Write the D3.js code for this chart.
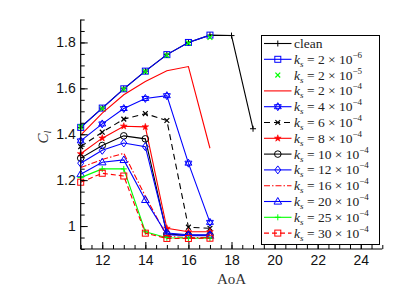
<!DOCTYPE html>
<html><head><meta charset="utf-8">
<script src="https://cdn.jsdelivr.net/npm/d3@7"></script>
<style>body{margin:0;background:#fff}svg{display:block}</style>
</head><body>
<svg id="c" width="418" height="301"></svg>
<script>
const aoa = [11,12,13,14,15,16,17];
const aoaClean = [11,12,13,14,15,16,17,18,19];
const clean   = [1.43,1.514,1.598,1.675,1.747,1.80,1.832,1.83,1.424];
const ks2e6   = [1.43,1.514,1.598,1.675,1.747,1.80,1.832];
const ks2e5   = [1.432,1.512,1.596,1.673,1.744,1.797,1.822];
const ks2e4   = [1.396,1.492,1.572,1.63,1.677,1.695,1.339];
const ks4e4   = [1.371,1.445,1.512,1.556,1.568,1.274,1.016];
const ks6e4   = [1.346,1.409,1.466,1.49,1.46,0.995,0.99];
const ks8e4   = [1.315,1.383,1.435,1.432,0.99,0.975,0.975];
const ks10e4  = [1.296,1.351,1.393,1.38,0.965,0.96,0.96];
const ks12e4  = [1.274,1.33,1.362,1.346,0.97,0.962,0.962];
const ks16e4  = [1.255,1.29,1.317,1.13,0.955,0.95,0.95];
const ks20e4  = [1.226,1.278,1.288,1.114,0.962,0.958,0.958];
const ks25e4  = [1.211,1.249,1.249,0.975,0.949,0.947,0.947];
const ks30e4  = [1.191,1.23,1.218,0.969,0.946,0.946,0.947];
const legendMant = ["2","2","2","4","6","8","10","12","16","20","25","30"];
const legendExp  = ["6","5","4","4","4","4","4","4","4","4","4","4"];
const xTicks = [12,14,16,18,20,22,24];
const yTicks = [1,1.2,1.4,1.6,1.8];

const BLUE="#0000ff", RED="#ff0000", GREEN="#00ff00", BLACK="#000";
const series = [
  {name:"clean", x:aoaClean, y:clean, color:BLACK, line:true, dash:null, marker:"plus"},
  {x:aoa, y:ks2e6, color:BLUE, line:true, dash:null, marker:"square"},
  {x:aoa, y:ks2e5, color:GREEN, line:false, dash:null, marker:"x"},
  {x:aoa, y:ks2e4, color:RED, line:true, dash:null, marker:null},
  {x:aoa, y:ks4e4, color:BLUE, line:true, dash:null, marker:"hex"},
  {x:aoa, y:ks6e4, color:BLACK, line:true, dash:"6,4", marker:"x"},
  {x:aoa, y:ks8e4, color:RED, line:true, dash:null, marker:"ast"},
  {x:aoa, y:ks10e4, color:BLACK, line:true, dash:null, marker:"circle"},
  {x:aoa, y:ks12e4, color:BLUE, line:true, dash:null, marker:"diamond"},
  {x:aoa, y:ks16e4, color:RED, line:true, dash:"6,2,1.5,2", marker:null},
  {x:aoa, y:ks20e4, color:BLUE, line:true, dash:null, marker:"triangle"},
  {x:aoa, y:ks25e4, color:GREEN, line:true, dash:null, marker:"plus"},
  {x:aoa, y:ks30e4, color:RED, line:true, dash:"5,3", marker:"square"}
];

const svg = d3.select("#c");
const x = d3.scaleLinear().domain([11,25]).range([80.7,382.3]);
const y = d3.scaleLinear().domain([0.9,1.9]).range([249,19.5]);

function drawMarker(g, type, cx, cy, color){
  const s = 3;
  if(type==="plus"){
    g.append("path").attr("d",`M${cx-s},${cy}H${cx+s}M${cx},${cy-s}V${cy+s}`).attr("stroke",color).attr("stroke-width",1).attr("fill","none");
  } else if(type==="x"){
    const t=2.4;
    g.append("path").attr("d",`M${cx-t},${cy-t}L${cx+t},${cy+t}M${cx-t},${cy+t}L${cx+t},${cy-t}`).attr("stroke",color).attr("stroke-width",1.2).attr("fill","none");
  } else if(type==="square"){
    g.append("rect").attr("x",cx-3).attr("y",cy-3).attr("width",6).attr("height",6).attr("stroke",color).attr("fill","none").attr("stroke-width",1);
  } else if(type==="circle"){
    g.append("circle").attr("cx",cx).attr("cy",cy).attr("r",3.3).attr("stroke",color).attr("fill","none").attr("stroke-width",1);
  } else if(type==="diamond"){
    g.append("path").attr("d",`M${cx},${cy-4}L${cx+3},${cy}L${cx},${cy+4}L${cx-3},${cy}Z`).attr("stroke",color).attr("fill","none").attr("stroke-width",1);
  } else if(type==="triangle"){
    g.append("path").attr("d",`M${cx},${cy-4}L${cx+3.8},${cy+2.6}L${cx-3.8},${cy+2.6}Z`).attr("stroke",color).attr("fill","none").attr("stroke-width",1);
  } else if(type==="hex"){
    const r=4;
    const tri=(a0)=>d3.range(3).map(i=>{const a=a0+i*2*Math.PI/3;return [cx+r*Math.cos(a),cy+r*Math.sin(a)];});
    const t1=tri(-Math.PI/2), t2=tri(Math.PI/2);
    g.append("path").attr("d",d3.line()(t1)+"Z"+d3.line()(t2)+"Z").attr("stroke",color).attr("fill","none").attr("stroke-width",1);
  } else if(type==="ast"){
    g.append("path").attr("d",d3.symbol(d3.symbolStar,14)()).attr("transform",`translate(${cx},${cy})`).attr("fill",color).attr("stroke",color).attr("stroke-width",0.6);
  }
}

const plot = svg.append("g");
series.forEach(s=>{
  const pts = s.x.map((xv,i)=>[x(xv), y(s.y[i])]);
  if(s.line){
    plot.append("path").attr("d",d3.line()(pts)).attr("fill","none").attr("stroke",s.color).attr("stroke-width",1.1).attr("stroke-dasharray",s.dash);
  }
  if(s.marker){
    pts.forEach(p=>drawMarker(plot,s.marker,p[0],p[1],s.color));
  }
});

// axes (ticks inward)
const minorY = d3.range(0.9,1.9001,0.05);
const minorX = d3.range(11,25.001,0.5);
const axL = svg.append("g").attr("transform",`translate(${x(11)},0)`);
axL.call(d3.axisLeft(y).tickValues(minorY).tickSize(-4).tickFormat(""));
axL.call(g=>g.select(".domain").remove());
const axL2 = svg.append("g").attr("transform",`translate(${x(11)},0)`);
axL2.call(d3.axisLeft(y).tickValues(yTicks).tickSize(-7).tickPadding(5).tickFormat(d=>d3.format("~g")(d)));
axL2.selectAll("text").attr("font-family","Liberation Sans, Arial, sans-serif").attr("font-size",14).attr("fill","#111");
axL2.select(".domain").attr("d",`M0,${y(0.9)}V${y(1.9)}`);

const axB = svg.append("g").attr("transform",`translate(0,${y(0.9)})`);
axB.call(d3.axisBottom(x).tickValues(minorX).tickSize(-4).tickFormat(""));
axB.call(g=>g.select(".domain").remove());
const axB2 = svg.append("g").attr("transform",`translate(0,${y(0.9)})`);
axB2.call(d3.axisBottom(x).tickValues(xTicks).tickSize(-7).tickPadding(6).tickFormat(d=>d));
axB2.selectAll("text").attr("font-family","Liberation Sans, Arial, sans-serif").attr("font-size",14).attr("fill","#111");
axB2.select(".domain").attr("d",`M${x(11)},0H${x(25)}`);
svg.selectAll(".tick line").attr("stroke","#000");
svg.selectAll(".domain").attr("stroke","#000").attr("stroke-width",1.2);

// axis labels
svg.append("text").attr("x",x(18)).attr("y",284).attr("text-anchor","middle")
  .attr("font-family","Liberation Serif, Times New Roman, serif").attr("font-size",15).attr("fill","#333").text("AoA");
const cl = svg.append("text").attr("transform",`translate(48,137) rotate(-90)`).attr("text-anchor","middle")
  .attr("font-family","Liberation Serif, Times New Roman, serif").attr("font-size",15).attr("fill","#333");
cl.append("tspan").attr("font-style","italic").text("C");
cl.append("tspan").attr("font-style","italic").attr("font-size",10).attr("dy",3).text("l");

// legend
const lg = svg.append("g");
lg.append("rect").attr("x",261.5).attr("y",35.5).attr("width",118).attr("height",209).attr("fill","#fff").attr("stroke","#000").attr("stroke-width",1);
series.forEach((s,i)=>{
  const cy = 43.5 + i*15.8;
  if(s.line){
    lg.append("line").attr("x1",264).attr("x2",291.5).attr("y1",cy).attr("y2",cy).attr("stroke",s.color).attr("stroke-width",1.1).attr("stroke-dasharray",s.dash);
  }
  if(s.marker) drawMarker(lg,s.marker,277.8,cy,s.color);
  const t = lg.append("text").attr("x",294).attr("y",cy+4.5).attr("font-family","Liberation Serif, Times New Roman, serif").attr("font-size",13.5).attr("fill","#222");
  if(i===0){ t.text("clean"); }
  else {
    t.append("tspan").attr("font-style","italic").text("k");
    t.append("tspan").attr("font-style","italic").attr("font-size",9).attr("dy",3).text("s");
    t.append("tspan").attr("dy",-3).text(` = ${legendMant[i-1]} × 10`);
    t.append("tspan").attr("font-size",9).attr("dy",-6).text(`−${legendExp[i-1]}`);
  }
});
</script>
</body></html>
